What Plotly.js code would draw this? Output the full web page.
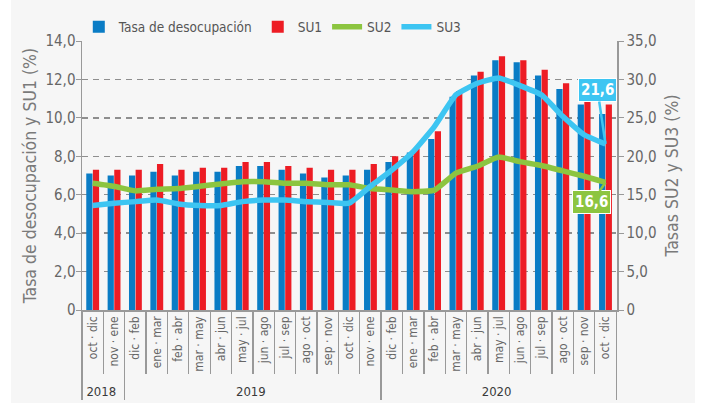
<!DOCTYPE html>
<html>
<head>
<meta charset="utf-8">
<script src="https://cdn.plot.ly/plotly-3.0.1.min.js"></script>
<style>
html,body{margin:0;padding:0;background:#ffffff;}
#chart{position:absolute;left:11px;top:0;width:684px;height:403px;}
</style>
</head>
<body>
<div id="chart"></div>
<script>
// Z = zero-width space, keeps repeated period names distinct inside the multicategory axis
var Z = '\u200b';
var years = ['2018','2018',
  '2019','2019','2019','2019','2019','2019','2019','2019','2019','2019','2019','2019',
  '2020','2020','2020','2020','2020','2020','2020','2020','2020','2020','2020'];
var periods = ['oct · dic','nov · ene',
  'dic · feb','ene · mar','feb · abr','mar · may','abr · jun','may · jul','jun · ago','jul · sep','ago · oct','sep · nov','oct · dic'+Z,'nov · ene'+Z,
  'dic · feb','ene · mar','feb · abr','mar · may','abr · jun','may · jul','jun · ago','jul · sep','ago · oct','sep · nov','oct · dic'+Z];
var desocupacion = [7.1,7.0,7.0,7.2,7.0,7.2,7.2,7.5,7.5,7.3,7.1,6.9,7.0,7.3,7.7,8.2,8.9,11.1,12.2,13.0,12.9,12.2,11.5,10.7,10.2];
var su1 = [7.3,7.3,7.3,7.6,7.3,7.4,7.4,7.7,7.7,7.5,7.4,7.3,7.3,7.6,8.0,8.4,9.3,11.4,12.4,13.2,13.0,12.5,11.8,10.9,10.7];
var su2 = [16.5,16.1,15.5,15.7,15.8,16.1,16.4,16.7,16.7,16.5,16.5,16.3,16.3,15.8,15.6,15.4,15.6,17.8,18.7,19.9,19.3,18.8,18.1,17.4,16.6];
var su3 = [13.6,13.9,14.1,14.3,13.8,13.6,13.6,14.1,14.3,14.3,14.1,14.0,13.9,16.1,18.2,20.6,23.9,28.0,29.5,30.2,29.2,28.0,25.2,22.8,21.6];
var leftTicks = [0,2,4,6,8,10,12,14];
var leftTickText = ['0','2,0','4,0','6,0','8,0','10,0','12,0','14,0'];
var rightTicks = [0,5,10,15,20,25,30,35];
var rightTickText = ['0','5,0','10,0','15,0','20,0','25,0','30,0','35,0'];

var FONT = 'DejaVu Sans Condensed, Liberation Sans Narrow, Roboto, sans-serif';
var C_BLUE = '#0a7cc5', C_RED = '#ed1c24', C_GREEN = '#8cc540', C_LBLUE = '#3dc5f2';
var yearLabels = years.map(function(y){ return '<span style="fill:#3a3a3a;font-size:13px">' + y + '</span>'; });
var x = [yearLabels, periods];
var fmt = function(v){ return v.toFixed(1).replace('.', ','); };

var traces = [
  {type:'bar', name:'Tasa de desocupación', x:x, y:desocupacion, marker:{color:C_BLUE}, yaxis:'y'},
  {type:'bar', name:'SU1', x:x, y:su1, marker:{color:C_RED}, yaxis:'y'},
  {type:'scatter', mode:'lines', name:'SU2', x:x, y:su2, yaxis:'y2',
   line:{color:C_GREEN, width:5.5, shape:'spline', smoothing:0.4}},
  {type:'scatter', mode:'lines', name:'SU3', x:x, y:su3, yaxis:'y2',
   line:{color:C_LBLUE, width:5.5, shape:'spline', smoothing:0.4}}
];
var n = periods.length - 1;
var layout = {
  width:684, height:403,
  paper_bgcolor:'#f6f6f6', plot_bgcolor:'#f6f6f6',
  margin:{l:71, r:78, t:41, b:93, autoexpand:false},
  font:{family:FONT, color:'#666', size:12},
  barmode:'group', bargap:0.38, bargroupgap:0.06,
  showlegend:true,
  legend:{orientation:'h', x:-0.006, xanchor:'left', y:1.052, yanchor:'middle',
          font:{family:FONT, size:13.5, color:'#555'}, bgcolor:'rgba(0,0,0,0)', itemwidth:30, traceorder:'normal'},
  xaxis:{type:'multicategory', showline:true, linecolor:'#999', linewidth:1.5,
         ticks:'outside', ticklen:62, tickcolor:'#999', tickwidth:1.3,
         tickangle:-90, tickfont:{family:FONT, size:12, color:'#666'},
         showdividers:true, dividercolor:'#999', dividerwidth:1.3,
         showgrid:false, zeroline:false, automargin:false},
  yaxis:{range:[0,14], tickvals:leftTicks, ticktext:leftTickText,
         showline:true, linecolor:'#999', linewidth:1.5, ticks:'outside', ticklen:5, tickcolor:'#999',
         ticklabelstandoff:-3,
         showgrid:true, gridcolor:'#8e8e8e', gridwidth:1.3, griddash:'6px,5px', zeroline:false,
         tickfont:{family:FONT, size:15, color:'#666'},
         title:{text:'Tasa de desocupación y SU1 (%)', font:{family:FONT, size:17.5, color:'#7a7a7a'}, standoff:4},
         automargin:false},
  yaxis2:{range:[0,35], overlaying:'y', side:'right', tickvals:rightTicks, ticktext:rightTickText,
          showline:true, linecolor:'#999', linewidth:1.5, ticks:'outside', ticklen:5, tickcolor:'#999',
          showgrid:false, zeroline:false,
          tickfont:{family:FONT, size:15, color:'#666'},
          title:{text:'Tasas SU2 y SU3 (%)', font:{family:FONT, size:17.5, color:'#7a7a7a'}, standoff:10},
          automargin:false},
  annotations:[
    {xref:'x', yref:'y2', x:n, y:su3[n], text:'<b>'+fmt(su3[n])+'</b>', showarrow:true,
     ax:-8, ay:-54, arrowhead:0, arrowwidth:2.5, arrowcolor:C_LBLUE, standoff:0,
     bgcolor:C_LBLUE, bordercolor:'#ffffff', borderwidth:1, borderpad:2,
     font:{family:FONT, size:15, color:'#ffffff'}},
    {xref:'x', yref:'y2', x:n, y:su2[n], text:'<b>'+fmt(su2[n])+'</b>', showarrow:true,
     ax:-14, ay:20, arrowhead:0, arrowwidth:2.5, arrowcolor:C_GREEN, standoff:0,
     bgcolor:C_GREEN, bordercolor:'#ffffff', borderwidth:1, borderpad:2,
     font:{family:FONT, size:15, color:'#ffffff'}}
  ]
};
Plotly.newPlot('chart', traces, layout, {displayModeBar:false, staticPlot:true});
</script>
</body>
</html>
